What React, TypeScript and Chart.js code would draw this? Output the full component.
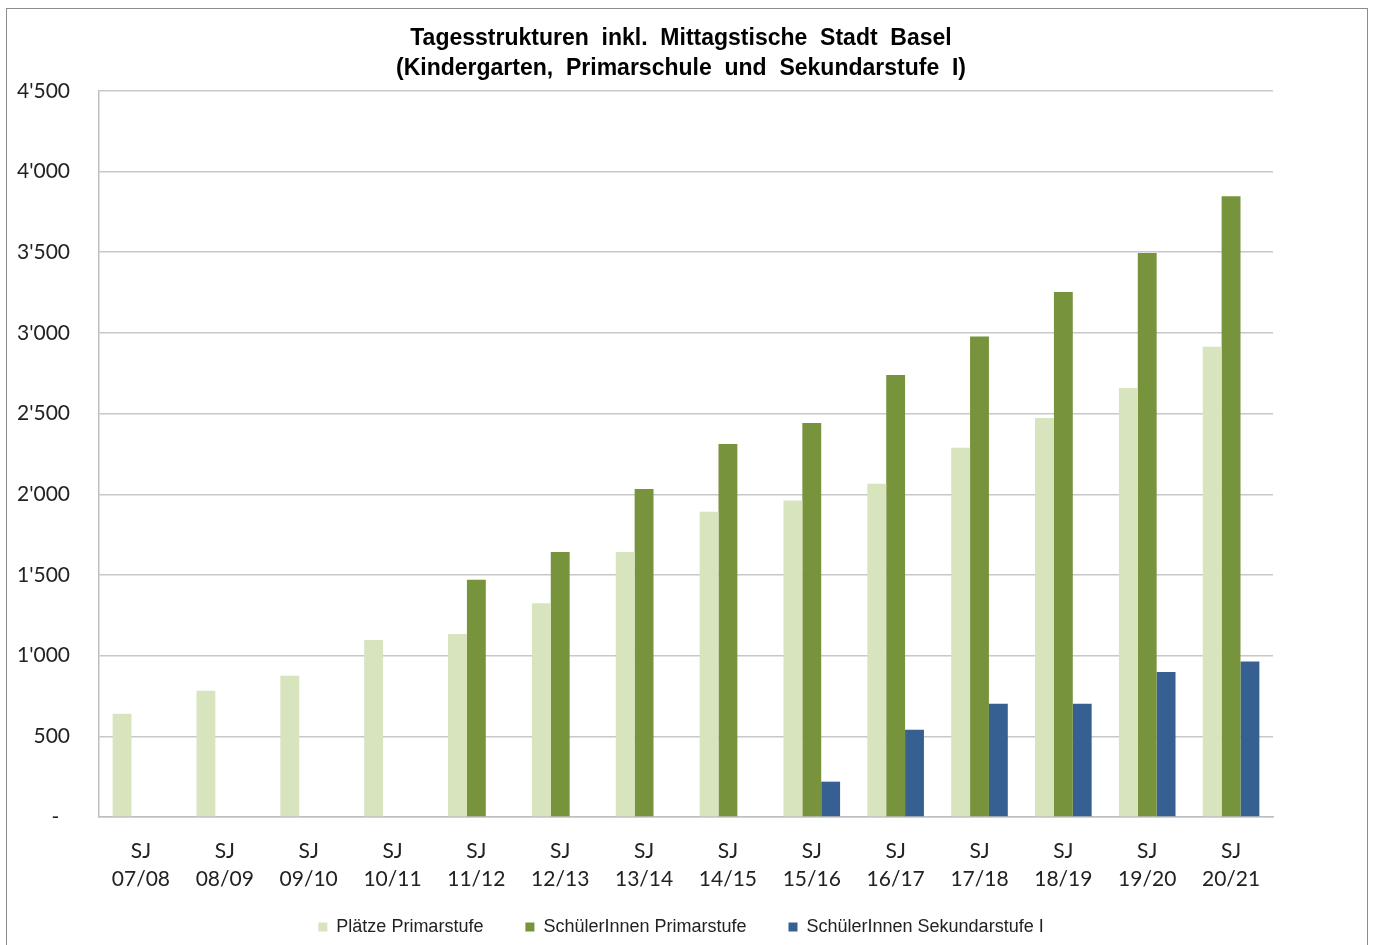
import React, { useEffect, useRef } from 'react';
import { Chart, registerables } from 'chart.js';

Chart.register(...registerables);

const categories: string[][] = [
  ['SJ', '07/08'], ['SJ', '08/09'], ['SJ', '09/10'], ['SJ', '10/11'], ['SJ', '11/12'],
  ['SJ', '12/13'], ['SJ', '13/14'], ['SJ', '14/15'], ['SJ', '15/16'], ['SJ', '16/17'],
  ['SJ', '17/18'], ['SJ', '18/19'], ['SJ', '19/20'], ['SJ', '20/21'],
];

const plaetzePrimarstufe = [640, 783, 876, 1097, 1134, 1324, 1642, 1891, 1962, 2065, 2288, 2473, 2659, 2915];
const schuelerPrimarstufe = [null, null, null, null, 1470, 1642, 2033, 2312, 2442, 2739, 2978, 3253, 3496, 3847];
const schuelerSekundarstufe = [null, null, null, null, null, null, null, null, 219, 541, 702, 702, 899, 963];

const titleLines = [
  'Tagesstrukturen  inkl.  Mittagstische  Stadt  Basel',
  '(Kindergarten,  Primarschule  und  Sekundarstufe  I)',
];

const seriesNames = ['Plätze Primarstufe', 'SchülerInnen Primarstufe', 'SchülerInnen Sekundarstufe I'];

const formatTick = (v: number) => {
  if (v === 0) return '-  ';
  const s = String(Math.round(v));
  return s.length > 3 ? s.slice(0, s.length - 3) + "'" + s.slice(s.length - 3) : s;
};

export default function App() {
  const ref = useRef<HTMLCanvasElement | null>(null);

  useEffect(() => {
    if (!ref.current) return;
    const tickFont = { family: 'Lato, "Open Sans", sans-serif', size: 21, lineHeight: 1.33 };
    const narrowFont = '"Liberation Sans Narrow", "Arial Narrow", "Liberation Sans", Arial, sans-serif';
    const chart = new Chart(ref.current, {
      type: 'bar',
      data: {
        labels: categories,
        datasets: [
          {
            label: seriesNames[0],
            data: plaetzePrimarstufe,
            backgroundColor: '#d7e4bd',
            categoryPercentage: 0.675,
            barPercentage: 1,
          },
          {
            label: seriesNames[1],
            data: schuelerPrimarstufe,
            backgroundColor: '#77933c',
            categoryPercentage: 0.675,
            barPercentage: 1,
          },
          {
            label: seriesNames[2],
            data: schuelerSekundarstufe,
            backgroundColor: '#376092',
            categoryPercentage: 0.675,
            barPercentage: 1,
          },
        ],
      },
      options: {
        responsive: false,
        animation: false,
        layout: { padding: { left: 0, right: 11, top: 0, bottom: -1 } },
        plugins: {
          title: {
            display: true,
            text: titleLines,
            color: '#000',
            font: { family: narrowFont, size: 23, weight: 'bold', lineHeight: 1.28 },
            padding: { top: 24, bottom: 8 },
          },
          legend: {
            display: true,
            position: 'bottom',
            labels: {
              boxWidth: 9,
              boxHeight: 9,
              padding: 42,
              color: '#222',
              font: { family: narrowFont, size: 18 },
            },
          },
          tooltip: { enabled: false },
        },
        scales: {
          x: {
            grid: { display: false, drawTicks: false },
            border: { display: true, color: '#bfbfbf', width: 1.5 },
            ticks: { color: '#222', font: tickFont, padding: 20, maxRotation: 0, autoSkip: false },
            afterFit: (scale: any) => {
              scale.height = 59;
              scale._computeLabelArea = () => undefined;
            },
          },
          y: {
            min: 0,
            max: 4500,
            grid: { color: '#c8c8c8', lineWidth: 1.5, drawTicks: false },
            border: { display: true, color: '#bfbfbf', width: 1.5 },
            ticks: {
              stepSize: 500,
              color: '#222',
              font: tickFont,
              padding: 29,
              callback: (v: any) => formatTick(Number(v)),
            },
            afterFit: (scale: any) => { scale.width = 99; },
          },
          yRight: {
            position: 'right',
            display: true,
            min: 0,
            max: 4500,
            grid: { display: false, drawTicks: false },
            border: { display: false },
            ticks: { display: false },
            afterFit: (scale: any) => { scale.width = 89; },
          },
        },
      },
    } as any);
    return () => chart.destroy();
  }, []);

  return (
    <div style={{ position: 'absolute', left: 0, top: 0, width: 1373, height: 945, background: '#fff' }}>
      <div style={{ position: 'absolute', left: 6, top: 8, width: 1362, height: 950, border: '1px solid #8c8c8c', boxSizing: 'border-box' }} />
      <canvas ref={ref} width={1373} height={945} style={{ position: 'absolute', left: 0, top: 0 }} />
    </div>
  );
}
